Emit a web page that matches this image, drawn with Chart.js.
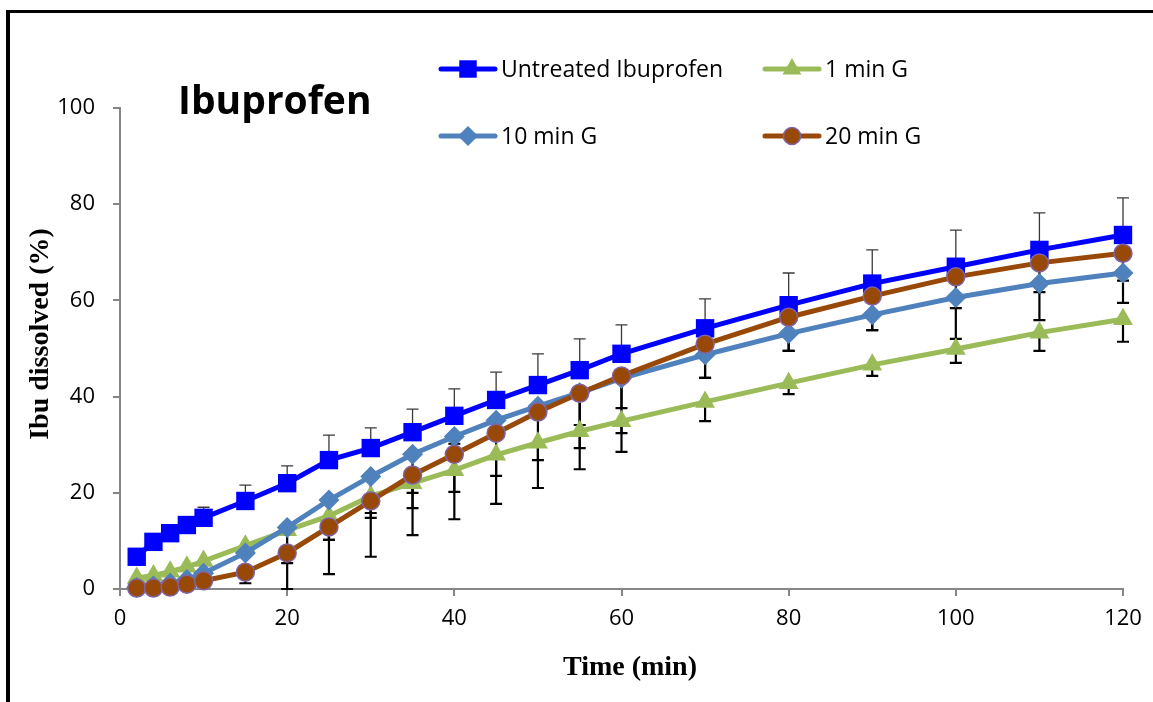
<!DOCTYPE html>
<html>
<head>
<meta charset="utf-8">
<title>Ibuprofen</title>
<script src="https://cdn.jsdelivr.net/npm/chart.js@4.4.0/dist/chart.umd.min.js"></script>
<style>
  html, body { margin: 0; padding: 0; background: #fff; }
  #cadre { position: relative; width: 1153px; height: 702px; }
</style>
</head>
<body>
<div id="cadre"><canvas id="monGraphe" width="1153" height="702"></canvas></div>
<script>
// temps de prélèvement (min)
const temps = [2, 4, 6, 8, 10, 15, 20, 25, 30, 35, 40, 45, 50, 55, 60, 70, 80, 90, 100, 110, 120];

// % dissous
const untreated = [6.7, 9.8, 11.6, 13.3, 14.8, 18.3, 22.0, 26.8, 29.3, 32.6, 36.0, 39.3, 42.4, 45.5, 48.9, 54.2, 59.0, 63.5, 67.0, 70.5, 73.6];
const g1 = [2.3, 2.8, 3.6, 4.6, 5.8, 9.0, 12.2, 15.2, 19.3, 22.0, 24.7, 27.9, 30.4, 32.8, 34.9, 38.9, 42.8, 46.6, 49.9, 53.3, 56.1];
const g10 = [0.3, 0.6, 1.2, 2.0, 3.3, 7.5, 12.8, 18.5, 23.4, 28.0, 31.7, 35.1, 38.0, 40.8, 43.8, 48.7, 53.1, 57.0, 60.6, 63.5, 65.7];
const g20 = [0.2, 0.2, 0.4, 1.0, 1.7, 3.5, 7.5, 12.9, 18.3, 23.7, 28.0, 32.4, 36.8, 40.7, 44.3, 50.9, 56.5, 60.9, 64.9, 67.8, 69.8];

// écarts-types (barre haute pour untreated, barre basse pour les autres)
const errUntreated = [0, 0, 0, 0, 2.2, 3.3, 3.6, 5.2, 4.2, 4.8, 5.6, 5.8, 6.5, 6.5, 6.0, 6.1, 6.7, 7.0, 7.6, 7.7, 7.7];
const errG1 = [0, 0, 0, 0, 0, 0, 6.8, 5.0, 4.5, 5.2, 4.5, 4.4, 3.6, 3.5, 2.5, 4.0, 2.3, 2.3, 2.9, 3.8, 4.7];
const errG10 = [0, 0, 0, 0, 0, 0, 1.0, 8.3, 7.6, 8.0, 1.5, 1.5, 1.5, 6.7, 6.2, 4.8, 3.6, 3.2, 8.6, 7.6, 6.2];
const errG20 = [0, 0, 0, 0, 0, 2.3, 7.5, 9.8, 11.6, 12.5, 13.5, 14.7, 15.8, 15.8, 15.8, 7.0, 7.0, 7.1, 6.5, 6.1, 5.7];

const yTicks = [0, 20, 40, 60, 80, 100];
const xTicks = [0, 20, 40, 60, 80, 100, 120];

const labels = ["Untreated Ibuprofen", "1 min G", "10 min G", "20 min G"];

function points(vals) {
    return temps.map((t, i) => ({ x: t, y: vals[i] }));
}

const gris = "#868686";
const police = "'Open Sans'";

const datasets = [
    { label: labels[0], data: points(untreated), borderColor: "#0000FF", backgroundColor: "#0000FF",
      pointStyle: "rect", pointRadius: 13, pointBorderWidth: 0, pointBorderColor: "#0000FF", order: 4 },
    { label: labels[1], data: points(g1), borderColor: "#9BBB59", backgroundColor: "#9BBB59",
      pointStyle: "triangle", pointRadius: 11.5, pointBorderWidth: 0, pointBorderColor: "#9BBB59", order: 3 },
    { label: labels[2], data: points(g10), borderColor: "#4F81BD", backgroundColor: "#4F81BD",
      pointStyle: "rectRot", pointRadius: 10.5, pointBorderWidth: 0, pointBorderColor: "#4F81BD", order: 2 },
    { label: labels[3], data: points(g20), borderColor: "#984807", backgroundColor: "#984807",
      pointStyle: "circle", pointRadius: 9, pointBorderWidth: 1.5, pointBorderColor: "#8064A2", order: 1 }
];
datasets.forEach(d => {
    d.borderWidth = 5;
    d.tension = 0;
    d.clip = false;
    d.pointHoverRadius = d.pointRadius;
});

const erreurs = [
    { ds: 0, err: errUntreated, sens: 1, couleur: "#3a3a3a", epaisseur: 1.3 },
    { ds: 1, err: errG1, sens: -1, couleur: "#000", epaisseur: 2.2 },
    { ds: 2, err: errG10, sens: -1, couleur: "#000", epaisseur: 2.2 },
    { ds: 3, err: errG20, sens: -1, couleur: "#000", epaisseur: 2.2 }
];

// barres d'erreur, dessinées sous les courbes
const barresErreur = {
    id: "barresErreur",
    beforeDatasetsDraw(chart) {
        const ctx = chart.ctx;
        const sx = chart.scales.x, sy = chart.scales.y;
        erreurs.forEach(e => {
            const vals = chart.data.datasets[e.ds].data;
            ctx.save();
            ctx.strokeStyle = e.couleur;
            ctx.lineWidth = e.epaisseur;
            vals.forEach((p, i) => {
                if (!e.err[i]) return;
                const px = sx.getPixelForValue(p.x);
                const y0 = sy.getPixelForValue(p.y);
                const y1 = sy.getPixelForValue(p.y + e.sens * e.err[i]);
                ctx.beginPath();
                ctx.moveTo(px, y0);
                ctx.lineTo(px, y1);
                ctx.moveTo(px - 6, y1);
                ctx.lineTo(px + 6, y1);
                ctx.stroke();
            });
            ctx.restore();
        });
    }
};

// cadre noir, titre, légende et titres des axes
const decor = {
    id: "decor",
    beforeDraw(chart) {
        const ctx = chart.ctx;
        ctx.save();
        ctx.fillStyle = "#fff";
        ctx.fillRect(0, 0, chart.width, chart.height);
        ctx.fillStyle = "#000";
        ctx.fillRect(6, 10, 4, chart.height);
        ctx.fillRect(6, 10, chart.width, 3);
        ctx.restore();
    },
    afterDraw(chart) {
        const ctx = chart.ctx;
        ctx.save();
        ctx.fillStyle = "#000";
        ctx.textBaseline = "alphabetic";
        ctx.font = "bold 39px " + police;
        ctx.fillText("Ibuprofen", 178, 114);

        const pos = [[441, 69], [765, 69], [441, 136], [765, 136]];
        chart.data.datasets.forEach((d, i) => {
            const [lx, ly] = pos[i];
            ctx.strokeStyle = d.borderColor;
            ctx.lineWidth = 5;
            ctx.lineCap = "round";
            ctx.beginPath();
            ctx.moveTo(lx, ly);
            ctx.lineTo(lx + 54, ly);
            ctx.stroke();
            ctx.fillStyle = d.backgroundColor;
            ctx.strokeStyle = d.pointBorderColor;
            ctx.lineWidth = d.pointBorderWidth;
            Chart.helpers.drawPoint(ctx, {
                pointStyle: d.pointStyle, radius: d.pointRadius * 0.95, rotation: 0,
                borderWidth: d.pointBorderWidth
            }, lx + 27, ly);
            ctx.fillStyle = "#000";
            ctx.font = "23px " + police;
            ctx.textBaseline = "middle";
            ctx.fillText(d.label, lx + 60, ly + 1);
        });

        ctx.font = "bold 28px 'Liberation Serif'";
        ctx.textAlign = "center";
        ctx.textBaseline = "middle";
        ctx.fillText("Time (min)", 630, 668);
        ctx.translate(41, 334);
        ctx.rotate(-Math.PI / 2);
        ctx.fillText("Ibu dissolved (%)", 0, 0);
        ctx.restore();
    }
};

const ctx = document.getElementById("monGraphe");
new Chart(ctx, {
    type: "line",
    data: { datasets: datasets },
    plugins: [barresErreur, decor],
    options: {
        responsive: false,
        animation: false,
        devicePixelRatio: 1,
        layout: { padding: { left: 0, right: 30, top: 108, bottom: 0 } },
        plugins: { legend: { display: false }, tooltip: { enabled: false }, title: { display: false } },
        scales: {
            x: {
                type: "linear", min: 0, max: 120,
                afterBuildTicks: s => { s.ticks = xTicks.map(v => ({ value: v })); },
                afterFit: s => { s.height = 113; },
                ticks: { color: "#000", font: { family: police, size: 22 }, padding: 10, maxRotation: 0 },
                grid: { drawOnChartArea: false, drawTicks: true, tickLength: 7, color: gris, lineWidth: 2 },
                border: { color: gris, width: 2 }
            },
            y: {
                min: 0, max: 100,
                afterBuildTicks: s => { s.ticks = yTicks.map(v => ({ value: v })); },
                afterFit: s => { s.width = 120; },
                ticks: { color: "#000", font: { family: police, size: 22 }, padding: 18 },
                grid: { drawOnChartArea: false, drawTicks: true, tickLength: 7, color: gris, lineWidth: 2 },
                border: { color: gris, width: 2 }
            }
        }
    }
});
</script>
</body>
</html>
